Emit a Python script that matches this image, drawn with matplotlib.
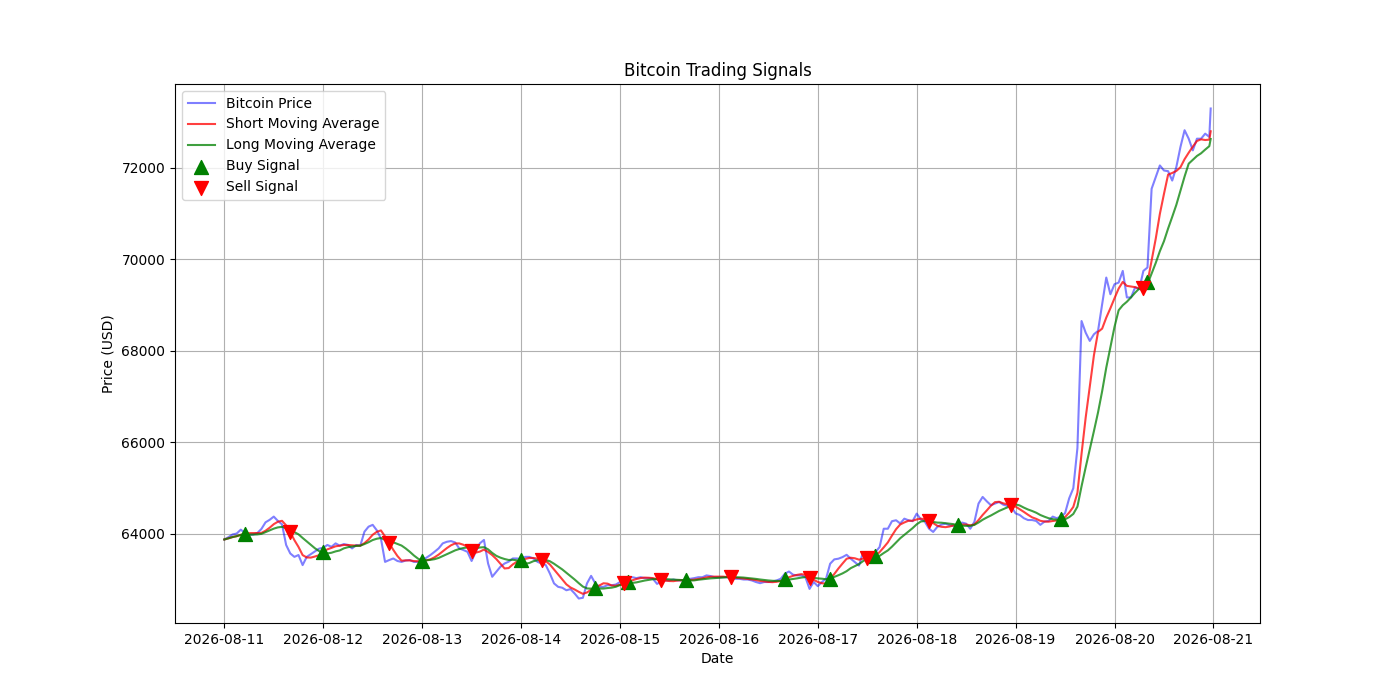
import matplotlib
matplotlib.use("Agg")
import matplotlib.pyplot as plt
import pandas as pd
import numpy as np

# Hourly Bitcoin prices (USD), 2026-08-11 00:00 .. 2026-08-20 23:00, plus a final point
prices = [
    63880, 63930, 63990, 64010, 64095, 64020, 63980, 63990, 64020, 64110, 64255, 64310,
    64380, 64285, 64210, 63760, 63575, 63500, 63540, 63320, 63500, 63560, 63620, 63680,
    63700, 63760, 63720, 63795, 63745, 63780, 63760, 63685, 63760, 63745, 64050, 64160,
    64200, 64080, 63900, 63390, 63430, 63465, 63410, 63390, 63420, 63430, 63390, 63390,
    63430, 63480, 63540, 63610, 63685, 63795, 63830, 63845, 63815, 63685, 63650, 63610,
    63410, 63610, 63795, 63870, 63355, 63065, 63175, 63285, 63355, 63395, 63465, 63465,
    63450, 63500, 63500, 63465, 63390, 63355, 63320, 63135, 62920, 62845, 62825, 62770,
    62795, 62700, 62590, 62605, 62920, 63085, 62920, 62845, 62845, 62880, 62880, 62895,
    62950, 62985, 63055, 63055, 63035, 63055, 63035, 63035, 63020, 62910, 62960, 62985,
    62985, 63005, 62985, 62985, 62985, 63020, 63035, 63055, 63055, 63095, 63080, 63055,
    63055, 63055, 63055, 63035, 63020, 63020, 63005, 63005, 62985, 62950, 62925, 62950,
    62950, 62960, 62985, 63020, 63130, 63180, 63110, 63095, 63095, 63055, 62800, 62950,
    62860, 62950, 63020, 63350, 63445, 63460, 63495, 63545, 63460, 63385, 63310, 63605,
    63570, 63530, 63605, 63715, 64115, 64115, 64280, 64300, 64230, 64335, 64300, 64280,
    64445, 64320, 64265, 64115, 64045, 64155, 64205, 64225, 64190, 64175, 64190, 64250,
    64225, 64115, 64265, 64665, 64810, 64715, 64630, 64665, 64700, 64640, 64615, 64590,
    64450, 64415, 64345, 64305, 64305, 64285, 64200, 64270, 64285, 64380, 64345, 64380,
    64455, 64780, 65000, 65880, 68655, 68400, 68220, 68365, 68440, 69020, 69605, 69240,
    69460, 69495, 69750, 69170, 69170, 69390, 69350, 69750, 69825, 71545, 71800, 72055,
    71945, 71930, 71725, 72020, 72460, 72825, 72640, 72385, 72640, 72640, 72750, 72680,
    73300,
]
start_time = "2026-08-11 00:00"
last_time = "2026-08-20 23:20"

short_window = 5
long_window = 10

# Signal positions (index into price series)
buy_idx = [5, 24, 48, 72, 90, 98, 112, 136, 147, 158, 178, 203, 224]
sell_idx = [16, 40, 60, 77, 97, 106, 123, 142, 156, 171, 191, 223]

times = pd.date_range(start_time, periods=len(prices) - 1, freq="h").append(
    pd.DatetimeIndex([last_time]))
df = pd.DataFrame({"price": prices}, index=times)
df["short"] = df["price"].rolling(short_window, min_periods=1).mean()
df["long"] = df["price"].rolling(long_window, min_periods=1).mean()

fig = plt.figure(figsize=(14, 7), dpi=100)
plt.plot(df.index, df["price"], label="Bitcoin Price", color="blue", alpha=0.5)
plt.plot(df.index, df["short"], label="Short Moving Average", color="red", alpha=0.75)
plt.plot(df.index, df["long"], label="Long Moving Average", color="green", alpha=0.75)
plt.scatter(df.index[buy_idx], df["short"].iloc[buy_idx], marker="^", color="green",
            s=100, label="Buy Signal", zorder=3)
plt.scatter(df.index[sell_idx], df["short"].iloc[sell_idx], marker="v", color="red",
            s=100, label="Sell Signal", zorder=3)
plt.title("Bitcoin Trading Signals")
plt.xlabel("Date")
plt.ylabel("Price (USD)")
plt.legend(loc="upper left")
plt.grid(True)
plt.savefig("out.png", dpi=100)
